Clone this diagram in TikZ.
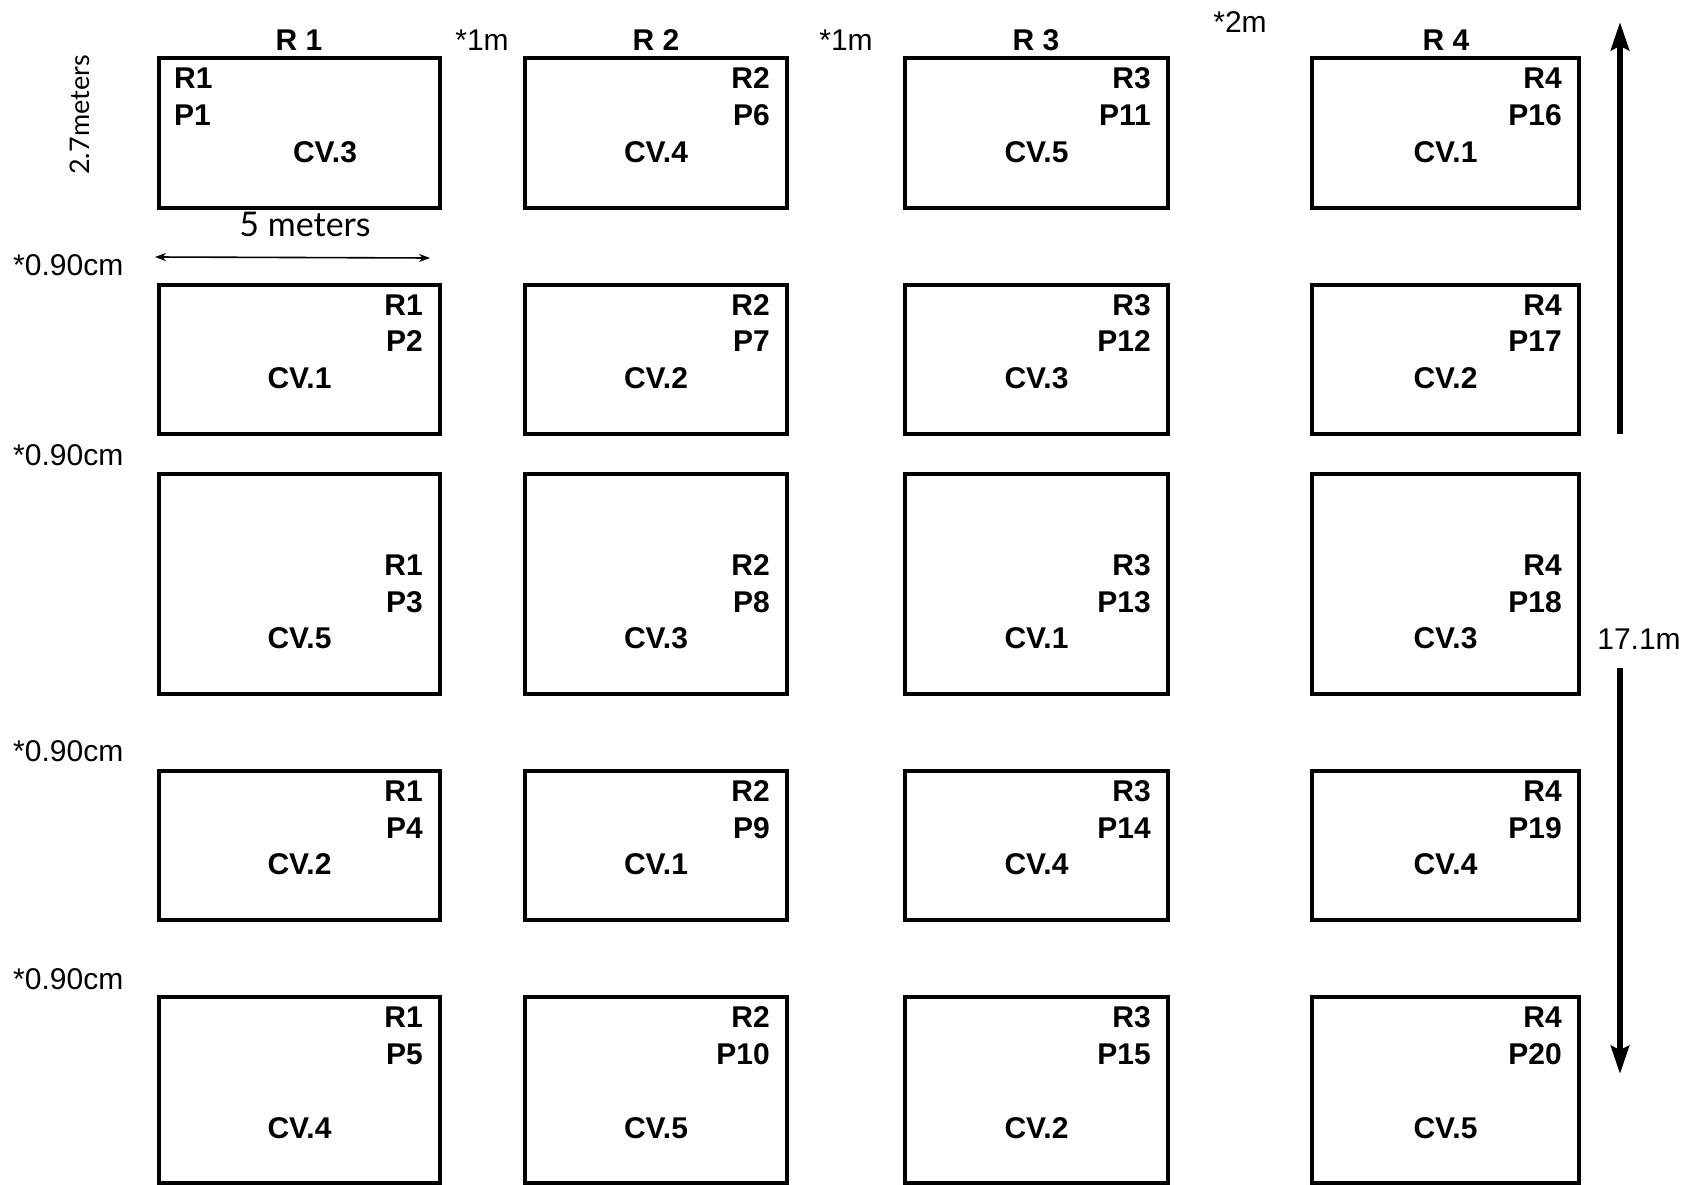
\documentclass[tikz,border=0pt]{standalone}
\usepackage{fontspec}
\setmainfont{Liberation Sans}
\newfontfamily\handfont{Lato}
\usetikzlibrary{arrows.meta}
\begin{document}
\begin{tikzpicture}[x=1pt,y=-1pt,
  plot/.style={draw, line width=3.2pt, inner sep=0pt},
  lbl/.style={font=\fontsize{30}{36}\selectfont\bfseries, inner sep=0pt},
  note/.style={font=\fontsize{30}{36}\selectfont, inner sep=0pt},
  hand/.style={font=\handfont\fontsize{34}{38}\selectfont, inner sep=0pt},
  bigarrow/.style={line width=6pt, -{Stealth[length=28pt,width=18pt,inset=4pt]}},
  dimarrow/.style={line width=1.6pt, {Stealth[length=11pt,width=8pt]}-{Stealth[length=11pt,width=8pt]}}]
\useasboundingbox[fill=white] (0,0) rectangle (1688,1185);
\foreach \cc/\xl/\xr in {1/159/440, 2/525/787, 3/905/1168, 4/1312/1579} {
  \foreach \rw/\yt/\yb/\ya/\yp/\yc in {1/58/208/78/115/152, 2/285/434/305/341/378, 3/474/694/565/602/638, 4/771/920/791/828/864, 5/997/1183/1017/1054/1128} {
    \pgfmathsetmacro\bw{\xr-\xl}
    \pgfmathsetmacro\bh{\yb-\yt}
    \pgfmathsetmacro\bx{(\xl+\xr)/2}
    \pgfmathsetmacro\by{(\yt+\yb)/2}
    \pgfmathtruncatemacro\pn{5*(\cc-1)+\rw}
    \pgfmathtruncatemacro\cv{{3,1,5,2,4,4,2,3,1,5,5,3,1,4,2,1,2,3,4,5}[\pn-1]}
    \pgfmathsetmacro\tx{\xr-17}
    \node[plot, minimum width=\bw pt, minimum height=\bh pt] (p\pn) at (\bx,\by) {};
    \ifnum\pn=1
      \node[lbl, anchor=west] (r\pn) at (174,\ya) {R\cc};
      \node[lbl, anchor=west] (n\pn) at (174,\yp) {P\pn};
      \node[lbl] (cv\pn) at (325,\yc) {CV.\cv};
    \else
      \node[lbl, anchor=east] (r\pn) at (\tx,\ya) {R\cc};
      \node[lbl, anchor=east] (n\pn) at (\tx,\yp) {P\pn};
      \node[lbl] (cv\pn) at (\bx,\yc) {CV.\cv};
    \fi
  }
}
% column headers
\node[lbl] (h1) at (299,40) {R 1};
\node[lbl] (h2) at (656,40) {R 2};
\node[lbl] (h3) at (1036,40) {R 3};
\node[lbl] (h4) at (1446,40) {R 4};
% gap notes
\node[note] (g1) at (482,40) {*1m};
\node[note] (g2) at (846,40) {*1m};
\node[note] (g3) at (1240,22) {*2m};
\node[note, anchor=west] (v1) at (13,265) {*0.90cm};
\node[note, anchor=west] (v2) at (13,455) {*0.90cm};
\node[note, anchor=west] (v3) at (13,751) {*0.90cm};
\node[note, anchor=west] (v4) at (13,979) {*0.90cm};
% dimensions
\node[hand, rotate=90, font=\handfont\fontsize{27}{30}\selectfont] (ht) at (80,115) {2.7meters};
\node[hand] (wd) at (305,224) {5 meters};
\coordinate (wl) at (155,257);
\coordinate (wr) at (430,258);
\draw[dimarrow] (wl) -- (wr);
\node[note] (tot) at (1639,639) {17.1m};
\coordinate (upS) at (1620,434);
\coordinate (upE) at (1620,22);
\coordinate (dnS) at (1620,668);
\coordinate (dnE) at (1620,1074);
\draw[bigarrow] (upS) -- (upE);
\draw[bigarrow] (dnS) -- (dnE);
\end{tikzpicture}
\end{document}
